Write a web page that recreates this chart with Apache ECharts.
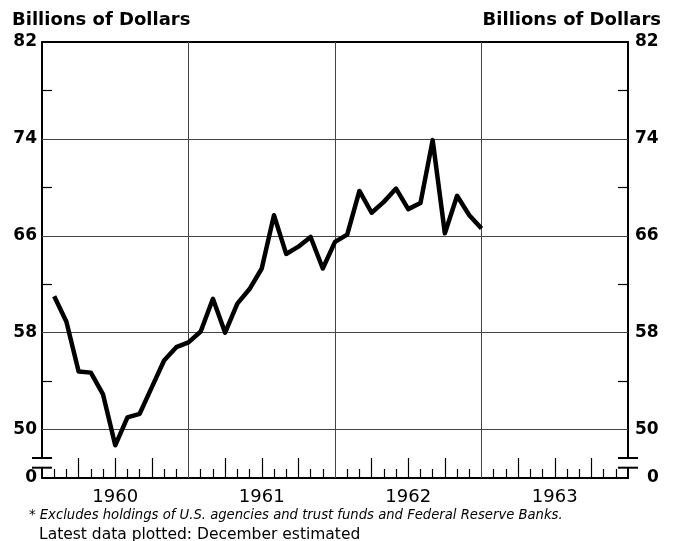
<!DOCTYPE html>
<html>
<head>
<meta charset="utf-8">
<script src="https://cdn.jsdelivr.net/npm/echarts@6.0.0/dist/echarts.min.js"></script>
<style>
  html, body { margin: 0; padding: 0; background: #fff; }
  #chart { width: 674px; height: 541px; }
</style>
</head>
<body>
<div id="chart"></div>
<script>
  // months counted from the start of 1960 (plotted at month end)
  var monthIdx = [1, 2, 3, 4, 5, 6, 7, 8, 9, 10, 11, 12,
                  13, 14, 15, 16, 17, 18, 19, 20, 21, 22, 23, 24,
                  25, 26, 27, 28, 29, 30, 31, 32, 33, 34, 35, 36];
  var holdings = [61.0, 58.9, 54.8, 54.7, 52.9, 48.7, 51.0, 51.3, 53.5, 55.7, 56.8, 57.2,
                  58.1, 60.8, 58.0, 60.4, 61.6, 63.3, 67.7, 64.5, 65.1, 65.9, 63.3, 65.5,
                  66.1, 69.7, 67.9, 68.8, 69.9, 68.2, 68.7, 73.9, 66.2, 69.3, 67.7, 66.6];

  var years = ['1960', '1961', '1962', '1963'];
  var yearMid = [6, 18, 30, 42];
  var yearBounds = [12, 24, 36];
  var monthTicks = [1, 2, 4, 5, 7, 8, 10, 11, 13, 14, 16, 17, 19, 20, 22, 23,
                    25, 26, 28, 29, 31, 32, 34, 35, 37, 38, 40, 41, 43, 44, 46, 47];
  var quarterTicks = [3, 6, 9, 15, 18, 21, 27, 30, 33, 39, 42, 45];

  var yLabels = [46, 50, 58, 66, 74, 82];   // 46 stands for the broken "0"
  var yGrid = [50, 58, 66, 74];
  var yMinorTicks = [54, 62, 70, 78];

  var font = 'DejaVu Sans';
  var chart = echarts.init(document.getElementById('chart'));

  function yAxisOpt(pos) {
    return {
      type: 'value',
      position: pos,
      min: 46,
      max: 82,
      axisLine: { show: true, onZero: false, lineStyle: { color: '#000', width: 2 } },
      axisTick: { show: true, inside: true, length: 10, customValues: yMinorTicks,
                  lineStyle: { color: '#000', width: 1.2 } },
      axisLabel: {
        customValues: yLabels,
        formatter: function (v) { return v === 46 ? '{z|0}' : String(v); },
        margin: pos === 'left' ? 5 : 7,
        color: '#000', fontFamily: font, fontSize: 17, fontWeight: 'bold',
        rich: { z: { fontFamily: font, fontSize: 17, fontWeight: 'bold', color: '#000',
                     padding: pos === 'left' ? [0, 0, 0, 0] : [0, 0, 0, 12] } }
      },
      splitLine: { show: false }
    };
  }

  var gridLines = yGrid.map(function (v) { return { yAxis: v }; })
    .concat(yearBounds.map(function (v) { return { xAxis: v }; }));

  var headStyle = { fontFamily: font, fontSize: 18, fontWeight: 'bold', color: '#000' };

  chart.setOption({
    animation: false,
    grid: { left: 42, right: 46, top: 42, bottom: 63 },
    title: [
      { text: 'Billions of Dollars', left: 12, top: 11, padding: 0, textStyle: headStyle },
      { text: 'Billions of Dollars', right: 13, top: 11, padding: 0, textStyle: headStyle },
      { text: '* Excludes holdings of U.S. agencies and trust funds and Federal Reserve Banks.',
        left: 29, top: 509, padding: 0,
        textStyle: { fontFamily: font, fontSize: 13.2, fontStyle: 'italic', fontWeight: 'normal', color: '#000' } },
      { text: 'Latest data plotted: December estimated', left: 39, top: 527, padding: 0,
        textStyle: { fontFamily: font, fontSize: 15.5, fontWeight: 'normal', color: '#000' } }
    ],
    xAxis: [
      {
        type: 'value', min: 0, max: 48, position: 'bottom',
        axisLine: { show: true, onZero: false, lineStyle: { color: '#000', width: 2 } },
        axisTick: { show: true, inside: true, length: 9, customValues: monthTicks,
                    lineStyle: { color: '#000', width: 1.2 } },
        axisLabel: { customValues: yearMid, margin: 10,
                     formatter: function (v) { return years[yearMid.indexOf(v)]; },
                     color: '#000', fontFamily: font, fontSize: 18 },
        splitLine: { show: false }
      },
      {
        type: 'value', min: 0, max: 48, position: 'bottom',
        axisLine: { show: false, onZero: false },
        axisTick: { show: true, inside: true, length: 20, customValues: quarterTicks,
                    lineStyle: { color: '#000', width: 1.2 } },
        axisLabel: { show: false },
        splitLine: { show: false }
      },
      {
        type: 'value', min: 0, max: 48, position: 'top',
        axisLine: { show: true, onZero: false, lineStyle: { color: '#000', width: 2 } },
        axisTick: { show: false },
        axisLabel: { show: false },
        splitLine: { show: false }
      }
    ],
    yAxis: [yAxisOpt('left'), yAxisOpt('right')],
    series: [{
      type: 'line',
      xAxisIndex: 0,
      yAxisIndex: 0,
      data: monthIdx.map(function (m, i) { return [m, holdings[i]]; }),
      symbol: 'none',
      z: 3,
      lineStyle: { color: '#000', width: 4.5, join: 'round' },
      markLine: {
        silent: true,
        z: 1,
        symbol: 'none',
        label: { show: false },
        lineStyle: { color: '#444', width: 1, type: 'solid' },
        data: gridLines
      }
    }]
  });

  // axis break marks between 0 and 50 on both sides
  var xl = chart.convertToPixel({ xAxisIndex: 0 }, 0);
  var xr = chart.convertToPixel({ xAxisIndex: 0 }, 48);
  var yHi = chart.convertToPixel({ yAxisIndex: 0 }, 47.65);
  var yLo = chart.convertToPixel({ yAxisIndex: 0 }, 46.85);
  var brk = [];
  [xl, xr].forEach(function (x) {
    brk.push({ type: 'rect', z: 100, shape: { x: x - 3, y: yHi, width: 6, height: yLo - yHi },
               style: { fill: '#fff' } });
    brk.push({ type: 'line', z: 101, shape: { x1: x - 10, y1: yHi, x2: x + 10, y2: yHi },
               style: { stroke: '#000', lineWidth: 2 } });
    brk.push({ type: 'line', z: 101, shape: { x1: x - 10, y1: yLo, x2: x + 10, y2: yLo },
               style: { stroke: '#000', lineWidth: 2 } });
  });
  chart.setOption({ graphic: brk });
</script>
</body>
</html>
